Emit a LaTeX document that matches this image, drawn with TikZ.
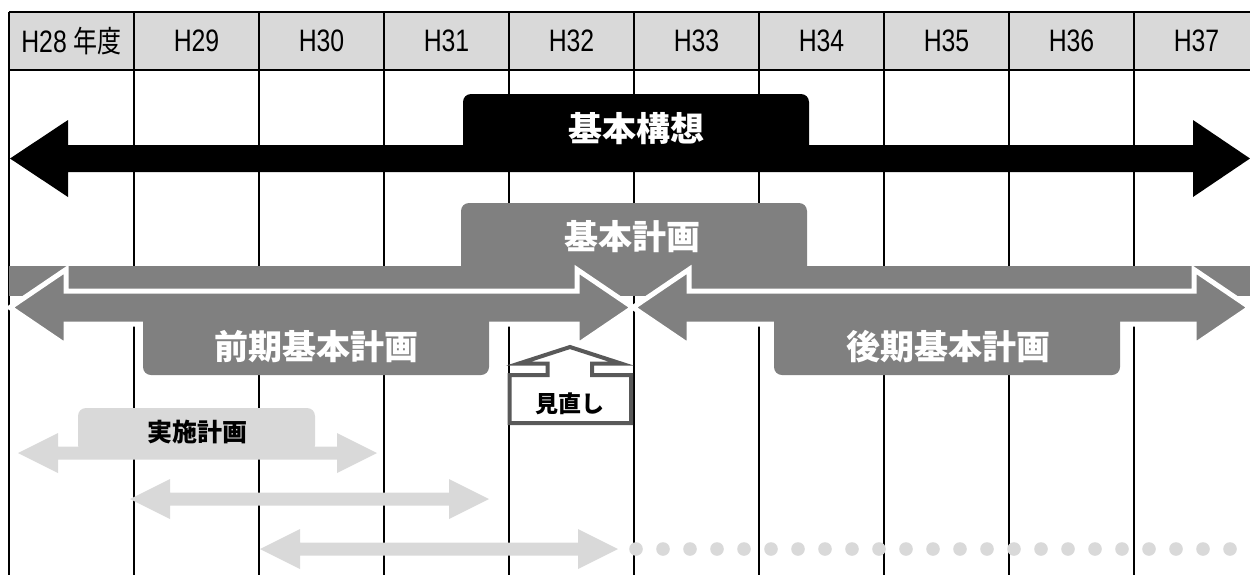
\documentclass[tikz,border=0pt]{standalone}
\usepackage{fontspec}
\setmainfont{Liberation Sans}[FakeStretch=0.8]
\newfontfamily\jpfont{Noto Sans CJK JP}[BoldFont={Noto Sans CJK JP Black}]
\newfontfamily\jpnarrow{Noto Sans CJK JP}[FakeStretch=0.8]
\definecolor{headgray}{HTML}{D9D9D9}
\definecolor{plangray}{HTML}{808080}
\definecolor{planlight}{HTML}{D9D9D9}
\definecolor{boxgray}{HTML}{595959}
\tikzset{
  yeartext/.style={font=\fontsize{15.5}{16}\selectfont},
  bigtitle/.style={text=white, font=\jpfont\bfseries\fontsize{17}{18}\selectfont},
  smalltitle/.style={text=black, font=\jpfont\bfseries\fontsize{12.5}{13}\selectfont},
}
\begin{document}
\begin{tikzpicture}[x=0.5pt, y=-0.5pt]
        \useasboundingbox (0,0) rectangle (1250,575);

        % header row and grid
        \fill[headgray] (9,12) rectangle (1250,70);
        \draw[line width=1pt] (9,12) -- (1250,12);
        \draw[line width=1pt] (9,70) -- (1250,70);
        \foreach \k in {0,...,9}{
          \draw[line width=1pt] ({9+125*\k},12) -- ({9+125*\k},575);
        }
        \node[yeartext] (y28) at (71.5,41) {H28 {\jpnarrow\fontsize{15}{16}\selectfont 年度}};
        \foreach \n in {29,...,37}{
          \node[yeartext] (y\n) at ({71.5+125*(\n-28)},41) {H\n};
        }

        % black arrow
        \fill[rounded corners=4pt] (463,160) -- (463,94) -- (809,94) -- (809,160) -- cycle;
        \fill (10,158.5) -- (68,120) -- (68,145) -- (1193,145) -- (1193,120) -- (1250,158.5)
              -- (1193,197) -- (1193,172) -- (68,172) -- (68,197) -- cycle;
        \node[bigtitle] (kousou) at (636,129) {基本構想};

        % gray arrows
        \fill[plangray] (9,266) rectangle (1250,296);
        \fill[plangray, rounded corners=4pt] (461,280) -- (461,203) -- (807,203) -- (807,280) -- cycle;
        \foreach \xa/\xb in {10/633, 633/1250}{
          \filldraw[fill=plangray, draw=white, line width=2.5pt] (\xa,307.5) -- (\xa+56,269.5) -- (\xa+56,291)
              -- (\xb-56,291) -- (\xb-56,269.5) -- (\xb,307.5) -- (\xb-56,345.5) -- (\xb-56,324)
              -- (\xa+56,324) -- (\xa+56,345.5) -- cycle;
        }
        \fill[plangray, rounded corners=4pt] (143,310) -- (143,375) -- (489,375) -- (489,310) -- cycle;
        \fill[plangray, rounded corners=4pt] (774,310) -- (774,375) -- (1120,375) -- (1120,310) -- cycle;
        \node[bigtitle] (keikaku) at (632,237) {基本計画};
        \node[bigtitle] (zenki) at (316,347) {前期基本計画};
        \node[bigtitle] (kouki) at (948,347) {後期基本計画};

        % review
        \filldraw[fill=white, draw=boxgray, line width=2pt] (509.5,423) -- (509.5,375) -- (547.5,375)
              -- (547.5,363.5) -- (519,363.5) -- (570,347) -- (621,363.5) -- (592,363.5) -- (592,375)
              -- (631,375) -- (631,423) -- cycle;
        \node[text=black, font=\jpfont\bfseries\fontsize{11.5}{12}\selectfont] (minaoshi) at (570,404) {見直し};

        % light arrows
        \fill[planlight, rounded corners=4pt] (78,453) -- (78,408) -- (315,408) -- (315,453) -- cycle;
        \foreach \xa/\xb/\yc in {18/377/453, 130/489/499, 260/618/549}{
          \fill[planlight] (\xa,\yc) -- (\xa+40,\yc-20) -- (\xa+40,\yc-6.5) -- (\xb-40,\yc-6.5)
              -- (\xb-40,\yc-20) -- (\xb,\yc) -- (\xb-40,\yc+20) -- (\xb-40,\yc+6.5)
              -- (\xa+40,\yc+6.5) -- (\xa+40,\yc+20) -- cycle;
        }
        \foreach \i in {0,...,22}{
          \fill[planlight] ({636+27*\i},549) circle [radius=3.4pt];
        }
        \node[smalltitle] (jisshi) at (198,432) {実施計画};

\end{tikzpicture}
\end{document}
